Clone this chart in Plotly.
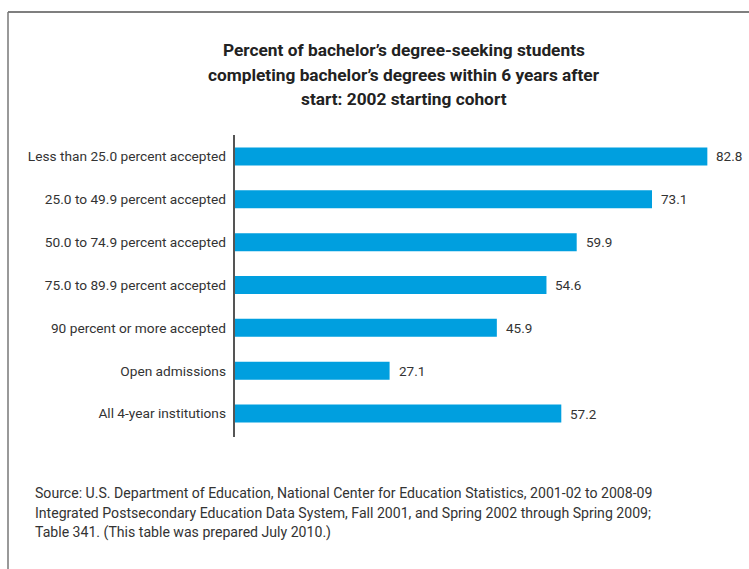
import plotly.graph_objects as go

# Admission-rate groups (top to bottom) and 6-year completion rates
categories = [
    "Less than 25.0 percent accepted",
    "25.0 to 49.9 percent accepted",
    "50.0 to 74.9 percent accepted",
    "75.0 to 89.9 percent accepted",
    "90 percent or more accepted",
    "Open admissions",
    "All 4-year institutions",
]
values = [82.8, 73.1, 59.9, 54.6, 45.9, 27.1, 57.2]

title_lines = [
    "Percent of bachelor’s degree-seeking students",
    "completing bachelor’s degrees within 6 years after",
    "start: 2002 starting cohort",
]
source_lines = [
    "Source: U.S. Department of Education, National Center for Education Statistics, 2001-02 to 2008-09",
    "Integrated Postsecondary Education Data System, Fall 2001, and Spring 2002 through Spring 2009;",
    "Table 341. (This table was prepared July 2010.)",
]

W, H = 749, 569
L, R, T, B = 235, 12, 135, 134
PW, PH = W - L - R, H - T - B

def px(x):
    return (x - L) / PW

def py(y):
    return 1 - (y - T) / PH

BAR = "#009fdf"
TXT = "#333333"
FONT = "Roboto"

fig = go.Figure(
    go.Bar(
        x=values,
        y=categories,
        orientation="h",
        marker=dict(color=BAR, line=dict(width=0)),
        width=0.42,
        hoverinfo="x+y",
    )
)

annotations = []
for c, v in zip(categories, values):
    annotations.append(dict(
        x=v, y=c, xref="x", yref="y", text=f"{v:.1f}", showarrow=False,
        xanchor="left", yanchor="middle", xshift=7,
        font=dict(family=FONT, size=13.5, color=TXT),
    ))

# title, one line at a time
for i, t in enumerate(title_lines):
    annotations.append(dict(
        x=px(404), y=py(50 + 24.5 * i), xref="paper", yref="paper",
        text=f"<b>{t}</b>", showarrow=False,
        xanchor="center", yanchor="middle",
        font=dict(family=FONT, size=17.3, color="#222222"),
    ))

# source note
for i, t in enumerate(source_lines):
    annotations.append(dict(
        x=px(33), y=py(493 + 19.5 * i), xref="paper", yref="paper",
        text=t, showarrow=False, xanchor="left", yanchor="middle",
        font=dict(family=FONT, size=14.1, color=TXT),
    ))

shapes = [
    # outer frame: top and left edges
    dict(type="line", xref="paper", yref="paper", x0=px(8), x1=px(752),
         y0=py(12), y1=py(12), line=dict(color="#555555", width=1.5)),
    dict(type="line", xref="paper", yref="paper", x0=px(8), x1=px(8),
         y0=py(12), y1=py(572), line=dict(color="#777777", width=1.5)),
    # category axis line
    dict(type="line", xref="paper", yref="paper", x0=px(234), x1=px(234),
         y0=py(135), y1=py(437), line=dict(color="#555555", width=2)),
]

fig.update_layout(
    width=W, height=H,
    margin=dict(l=L, r=R, t=T, b=B),
    paper_bgcolor="white", plot_bgcolor="white",
    showlegend=False,
    annotations=annotations,
    shapes=shapes,
    bargap=0.58,
    xaxis=dict(range=[0, 88], visible=False, fixedrange=True),
    yaxis=dict(
        categoryorder="array", categoryarray=categories[::-1],
        range=[-0.5, 6.5], showline=False, showgrid=False, zeroline=False,
        ticks="", ticklabelstandoff=8,
        tickfont=dict(family=FONT, size=13.7, color=TXT),
        fixedrange=True,
    ),
    font=dict(family=FONT),
)

fig.write_html("out.html")
